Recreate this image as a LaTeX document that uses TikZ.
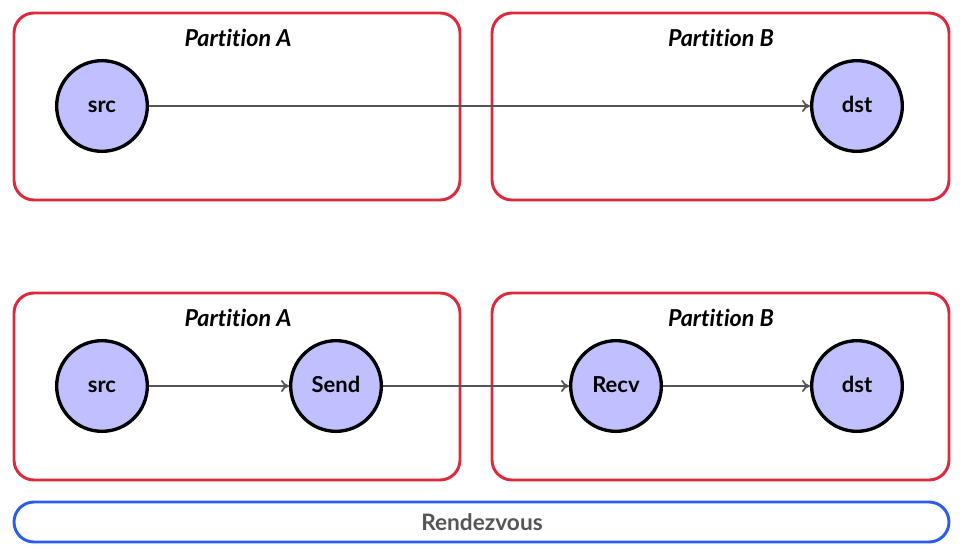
\documentclass[tikz,border=0pt]{standalone}
\usepackage{fontspec}
\setmainfont{Lato}[Ligatures=NoCommon]
\usetikzlibrary{arrows.meta}
\definecolor{partred}{RGB}{224,40,60}
\definecolor{rdvblue}{RGB}{43,92,240}
\definecolor{opfill}{RGB}{192,192,255}
\definecolor{edgegray}{RGB}{85,85,85}
\begin{document}
\begin{tikzpicture}[x=0.75pt,y=0.75pt,yscale=-1,xscale=1,
  partbox/.style={draw=partred,line width=2.2pt,rounded corners=15pt},
  rdvbox/.style={draw=rdvblue,line width=2.2pt,rounded corners=15pt},
  op/.style={circle,draw=black,line width=2.5pt,fill=opfill,minimum size=68pt,inner sep=0pt,text height=1em,text depth=0pt,font=\fontsize{16.5}{19}\selectfont\bfseries},
  parttitle/.style={font=\fontsize{17.5}{21}\selectfont\bfseries\itshape},
  flow/.style={draw=edgegray,line width=1.3pt,-{To[length=6pt,width=9pt]}}]
\useasboundingbox (0,0) rectangle (964,560);

%Partition boxes, top row
\draw [partbox] (14,13) rectangle (460,200) ;
\draw [partbox] (492,13) rectangle (949,200) ;
%Partition boxes, bottom row
\draw [partbox] (14,293) rectangle (460,480) ;
\draw [partbox] (492,293) rectangle (949,480) ;
%Rendezvous bar
\draw [rdvbox] (14,502) rectangle (949,542) ;

% Text Node
\node [parttitle] (titleA) at (238,38) {Partition A};
\node [parttitle] (titleB) at (721,38) {Partition B};
\node [parttitle] (titleA2) at (238,318) {Partition A};
\node [parttitle] (titleB2) at (721,318) {Partition B};
\node [font=\fontsize{17}{20}\selectfont\bfseries,text=edgegray] (rdv) at (482,522) {Rendezvous};

%Ops, top row
\node [op] (src) at (102,106) {src};
\node [op] (dst) at (857,106) {dst};
%Ops, bottom row
\node [op] (src2) at (102,386) {src};
\node [op] (send) at (336,386) {Send};
\node [op] (recv) at (616,386) {Recv};
\node [op] (dst2) at (857,386) {dst};

%Edges
\draw [flow] (src) -- (dst) ;
\draw [flow] (src2) -- (send) ;
\draw [flow] (send) -- (recv) ;
\draw [flow] (recv) -- (dst2) ;
\end{tikzpicture}
\end{document}
